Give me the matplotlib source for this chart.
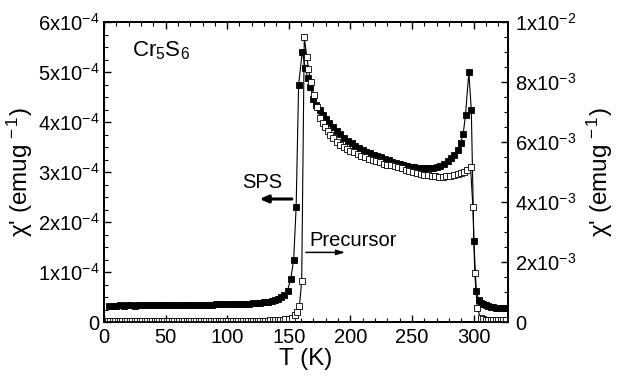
import matplotlib
matplotlib.use("Agg")
import matplotlib.pyplot as plt
from matplotlib.ticker import MultipleLocator

plt.rcParams['font.family'] = ['Liberation Sans', 'DejaVu Sans']
plt.rcParams['mathtext.fontset'] = 'custom'
plt.rcParams['mathtext.rm'] = 'Liberation Sans'
plt.rcParams['mathtext.it'] = 'Liberation Sans:italic'
plt.rcParams['mathtext.bf'] = 'Liberation Sans:bold'
plt.rcParams['mathtext.default'] = 'regular'

# ---- data: SPS (filled squares, left axis, units 1e-4 emu/g) ----
T_sps = [4, 7, 10, 13, 16, 19, 22, 25, 28, 31, 34, 37, 40, 43, 46, 49, 52, 55, 58, 61,
         64, 67, 70, 73, 76, 79, 82, 85, 88, 91, 94, 97, 100, 103, 106, 109, 112, 115, 118, 121,
         124, 127, 130, 133, 136, 139,
         141, 144, 146.5, 149, 151.7, 154, 156, 158, 161, 163.4,
         165.5, 167.5, 170, 172.5, 175, 177.5, 180, 183, 186, 189, 192, 195, 198, 201, 204, 207,
         210, 213, 216, 219, 222, 225, 228, 231, 234, 237, 240, 243, 246, 249, 252, 255, 258, 261,
         264, 267, 270, 273, 276, 279, 282, 284.5, 287, 289.5, 291.6, 293.5, 296.2, 298.2,
         300.3, 302.2, 304.2, 306, 308, 310, 312, 314, 316, 318, 320, 322, 324, 326]
chi_sps = [0.33, 0.33, 0.33, 0.34, 0.33, 0.34, 0.34, 0.33, 0.34, 0.34, 0.34, 0.34, 0.34, 0.34, 0.34, 0.34, 0.34, 0.34, 0.34, 0.35,
           0.35, 0.35, 0.35, 0.35, 0.35, 0.35, 0.35, 0.35, 0.35, 0.36, 0.36, 0.36, 0.36, 0.36, 0.36, 0.37, 0.37, 0.37, 0.37, 0.38,
           0.38, 0.39, 0.40, 0.41, 0.42, 0.44,
           0.46, 0.50, 0.55, 0.63, 0.87, 1.25, 2.30, 4.74, 5.41, 5.08,
           4.88, 4.71, 4.47, 4.35, 4.25, 4.15, 4.07, 3.99, 3.91, 3.83, 3.76, 3.69, 3.63, 3.58, 3.53, 3.49,
           3.45, 3.41, 3.38, 3.35, 3.32, 3.30, 3.27, 3.24, 3.21, 3.18, 3.16, 3.14, 3.12, 3.11, 3.10, 3.09, 3.08, 3.08,
           3.08, 3.09, 3.11, 3.13, 3.17, 3.22, 3.28, 3.35, 3.44, 3.58, 3.76, 4.14, 4.99, 4.25,
           1.62, 0.63, 0.44, 0.39, 0.36, 0.34, 0.32, 0.31, 0.30, 0.29, 0.29, 0.28, 0.28, 0.28]

# ---- data: Precursor (open squares, right axis, units 1e-3 emu/g) ----
T_pre = [3, 5, 7, 9, 11, 13, 15, 17, 19, 21, 23, 25, 27, 29, 31, 33, 35, 37, 39, 41,
         43, 45, 47, 49, 51, 53, 55, 57, 59, 61, 63, 65, 67, 69, 71, 73, 75, 77, 79, 81,
         83, 85, 87, 89, 91, 93, 95, 97, 99, 101, 103, 105, 107, 109, 111, 113, 115, 117, 119, 121,
         123, 125, 127, 129, 131, 133, 135, 137, 139, 141, 143, 145, 147,
         150, 152.5, 155, 157, 158.7, 160.5, 162.6,
         164.7, 166, 168.2, 170.2, 172.9, 175.6, 177.7, 179.7, 181.7, 183.7, 186, 189, 191.9, 194.5, 197,
         200, 203, 206, 209, 212, 215, 218, 221, 224, 227, 230, 233, 236, 239, 242, 245, 248, 251, 254,
         257, 260, 263, 266, 269, 272, 275, 278, 281, 284, 287, 290, 292.5, 295, 297.6,
         299.5, 301, 303, 305.7, 308, 310, 312, 314, 316, 318, 320, 322, 324, 326]
chi_pre = [0.05, 0.05, 0.05, 0.05, 0.05, 0.05, 0.05, 0.05, 0.05, 0.05, 0.05, 0.05, 0.05, 0.05, 0.05, 0.05, 0.05, 0.05, 0.05, 0.05,
           0.05, 0.05, 0.05, 0.05, 0.05, 0.05, 0.05, 0.05, 0.05, 0.05, 0.05, 0.05, 0.05, 0.05, 0.05, 0.05, 0.05, 0.05, 0.05, 0.05,
           0.05, 0.05, 0.05, 0.05, 0.05, 0.05, 0.05, 0.05, 0.05, 0.05, 0.05, 0.05, 0.05, 0.05, 0.05, 0.05, 0.05, 0.05, 0.05, 0.05,
           0.05, 0.05, 0.05, 0.05, 0.05, 0.05, 0.06, 0.06, 0.06, 0.07, 0.07, 0.08, 0.09,
           0.11, 0.15, 0.25, 0.35, 0.54, 1.36, 9.49,
           8.82, 8.42, 8.01, 7.57, 7.18, 6.79, 6.64, 6.51, 6.37, 6.23, 6.12, 6.00, 5.90, 5.83, 5.77,
           5.71, 5.65, 5.59, 5.54, 5.49, 5.45, 5.40, 5.36, 5.32, 5.28, 5.25, 5.22, 5.19, 5.16, 5.12, 5.08, 5.04, 5.00, 4.97,
           4.94, 4.91, 4.89, 4.87, 4.86, 4.85, 4.85, 4.86, 4.87, 4.89, 4.92, 4.96, 5.00, 5.06, 5.16,
           3.84, 1.64, 0.48, 0.12, 0.09, 0.08, 0.08, 0.08, 0.08, 0.08, 0.08, 0.08, 0.08, 0.08]

left_ticks = [0, 1, 2, 3, 4, 5, 6]
left_labels = ['0', '1x10$^{-4}$', '2x10$^{-4}$', '3x10$^{-4}$', '4x10$^{-4}$', '5x10$^{-4}$', '6x10$^{-4}$']
right_ticks = [0, 2, 4, 6, 8, 10]
right_labels = ['0', '2x10$^{-3}$', '4x10$^{-3}$', '6x10$^{-3}$', '8x10$^{-3}$', '1x10$^{-2}$']
x_ticks = [0, 50, 100, 150, 200, 250, 300]

fig = plt.figure(figsize=(6.21, 3.83), dpi=100)
ax = fig.add_axes([104/621, 1-322/383, (508-104)/621, (322-22)/383])
ax2 = ax.twinx()

ax.plot(T_sps, [v * 1e-4 for v in chi_sps], '-', color='black', lw=0.8,
        marker='s', ms=5.0, mfc='black', mec='black', mew=0.6)
ax2.plot(T_pre, [v * 1e-3 for v in chi_pre], '-', color='black', lw=0.8,
         marker='s', ms=5.0, mfc='white', mec='black', mew=0.6)

ax.set_xlim(0, 328)
ax.set_ylim(0, 6e-4)
ax2.set_ylim(0, 1e-2)

ax.set_xticks(x_ticks)
ax.set_xticklabels([str(t) for t in x_ticks])
ax.xaxis.set_minor_locator(MultipleLocator(10))
ax.set_yticks([v * 1e-4 for v in left_ticks])
ax.set_yticklabels(left_labels)
ax.yaxis.set_minor_locator(MultipleLocator(0.25e-4))
ax2.set_yticks([v * 1e-3 for v in right_ticks])
ax2.set_yticklabels(right_labels)
ax2.yaxis.set_minor_locator(MultipleLocator(0.5e-3))

ax.tick_params(axis='x', which='both', direction='in', top=True, labelsize=14.5, pad=4)
ax.tick_params(axis='y', which='both', direction='in', labelsize=14.5, pad=3)
ax.tick_params(which='major', length=5, width=1)
ax.tick_params(which='minor', length=3, width=0.8)
ax2.tick_params(axis='y', which='both', direction='in', labelsize=14.5, pad=5)
ax2.tick_params(which='major', length=5, width=1)
ax2.tick_params(which='minor', length=3, width=0.8)
for sp in ax.spines.values():
    sp.set_linewidth(1.3)
for sp in ax2.spines.values():
    sp.set_linewidth(1.3)

ax.set_xlabel('T (K)', fontsize=17.5, labelpad=1)
ax.set_ylabel("χ' (emug$^{\\,-1}$)", fontsize=17.5, labelpad=2)
ax2.set_ylabel("χ' (emug$^{\\,-1}$)", fontsize=17.5, labelpad=6)

ax.text(0.07, 0.905, 'Cr$_5$S$_6$', transform=ax.transAxes, fontsize=16, va='center', ha='left')
ax.text(0.442, 0.466, 'SPS', transform=ax.transAxes, fontsize=14.5, va='center', ha='left' if False else 'right')
ax.annotate('', xy=(0.385, 0.41), xytext=(0.465, 0.41), xycoords='axes fraction',
            arrowprops=dict(arrowstyle='-|>,head_length=0.5,head_width=0.22', color='black', lw=2.2,
                            shrinkA=0, shrinkB=0))
ax.text(0.508, 0.27, 'Precursor', transform=ax.transAxes, fontsize=14.5, va='center', ha='left')
ax.annotate('', xy=(0.597, 0.232), xytext=(0.5, 0.232), xycoords='axes fraction',
            arrowprops=dict(arrowstyle='-|>,head_length=0.5,head_width=0.15', color='black', lw=1.1,
                            shrinkA=0, shrinkB=0))

fig.savefig('out.png', dpi=100)
